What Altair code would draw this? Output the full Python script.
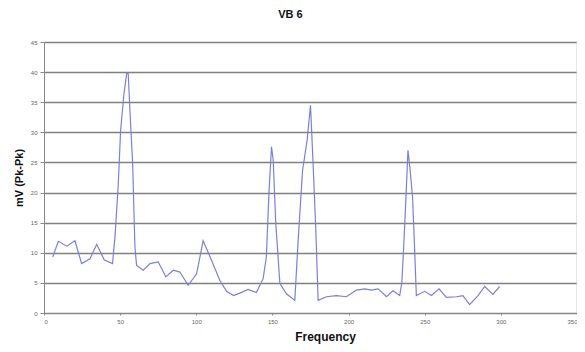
import altair as alt
import pandas as pd

freq = [5.7, 9.4, 14.9, 20.3, 24.7, 30.2, 34.6, 39.6, 45.0, 46.6, 47.7, 48.8, 50.3, 52.5,
        54.3, 55.3, 56.4, 58.2, 59.7, 60.8, 65.2, 69.6, 75.0, 80.0, 84.9, 89.2, 94.7,
        100.2, 104.5, 110.0, 115.5, 119.9, 124.5, 128.6, 134.0, 139.5, 143.9, 146.0,
        147.8, 149.4, 150.5, 152.2, 154.9, 159.2, 164.7, 166.9, 169.8, 172.8, 175.0,
        176.7, 178.5, 180.0, 185.5, 192.0, 198.6, 205.2, 210.6, 215.0, 219.4, 224.9,
        229.2, 233.6, 235.0, 236.2, 237.5, 239.0, 240.2, 242.0, 243.4, 244.5, 250.0,
        254.4, 259.4, 264.2, 270.8, 275.1, 279.5, 285.0, 289.4, 294.8, 299.2]
mv = [9.3, 11.9, 11.1, 12.0, 8.2, 9.0, 11.4, 8.8, 8.2, 12.6, 17.0, 21.5, 30.3, 36.4,
      39.8, 39.8, 33.7, 24.9, 11.0, 7.9, 7.1, 8.2, 8.5, 6.0, 7.1, 6.8, 4.6,
      6.5, 12.0, 8.75, 5.4, 3.6, 2.9, 3.3, 3.9, 3.4, 5.7, 9.3,
      20.4, 27.6, 25.4, 14.9, 4.9, 3.2, 2.1, 12.1, 23.7, 28.7, 34.5,
      24.8, 13.7, 2.1, 2.7, 2.9, 2.7, 3.8, 4.0, 3.8, 4.0, 2.7,
      3.7, 2.9, 5.1, 11.0, 18.2, 27.0, 24.3, 19.3, 10.4, 2.9, 3.6,
      2.9, 4.0, 2.6, 2.7, 2.9, 1.4, 2.9, 4.4, 3.1, 4.4]

x_ticks = [0, 50, 100, 150, 200, 250, 300, 350]
y_ticks = [0, 5, 10, 15, 20, 25, 30, 35, 40, 45]

df = pd.DataFrame({"Frequency": freq, "mV": mv})

line = alt.Chart(df).mark_line(color="#7a80d8", strokeWidth=1.2).encode(
    x=alt.X("Frequency:Q",
            scale=alt.Scale(domain=[0, 350], nice=False),
            axis=alt.Axis(values=x_ticks, title="Frequency", grid=False,
                          labelFontSize=6, labelColor="#666666", tickColor="#888888",
                          tickSize=2, domainColor="#888888", titleFontSize=12,
                          titleFont="Liberation Sans", titleFontWeight="bold",
                          titleColor="#111111", titlePadding=7, labelPadding=3,
                          titleX=281, labelFont="Liberation Sans")),
    y=alt.Y("mV:Q",
            scale=alt.Scale(domain=[0, 45], nice=False),
            axis=alt.Axis(values=y_ticks, title="mV (Pk-Pk)", grid=True,
                          gridColor="#808080", gridWidth=1.3,
                          labelFontSize=6, labelColor="#666666", tickColor="#888888",
                          tickSize=4, domainColor="#888888", titleFontSize=11,
                          titleFont="Liberation Sans", titleFontWeight="bold",
                          titleColor="#111111", titlePadding=6, labelPadding=3,
                          labelFont="Liberation Sans")),
)

border = alt.Chart(pd.DataFrame({"x": [350]})).mark_rule(color="#cccccc", strokeWidth=1).encode(
    x=alt.X("x:Q", scale=alt.Scale(domain=[0, 350], nice=False)),
)

chart = alt.layer(line, border).properties(
    width=533,
    height=271,
    autosize=alt.AutoSizeParams(type="none"),
    padding={"left": 36, "top": 34, "right": 0, "bottom": 40},
    title=alt.Title("VB 6", fontSize=11, font="Liberation Sans", fontWeight="bold",
                    color="#111111", dx=-20, offset=19),
).configure_view(stroke=None)

chart.save("out.html", embed_options={"renderer": "svg", "actions": False})
